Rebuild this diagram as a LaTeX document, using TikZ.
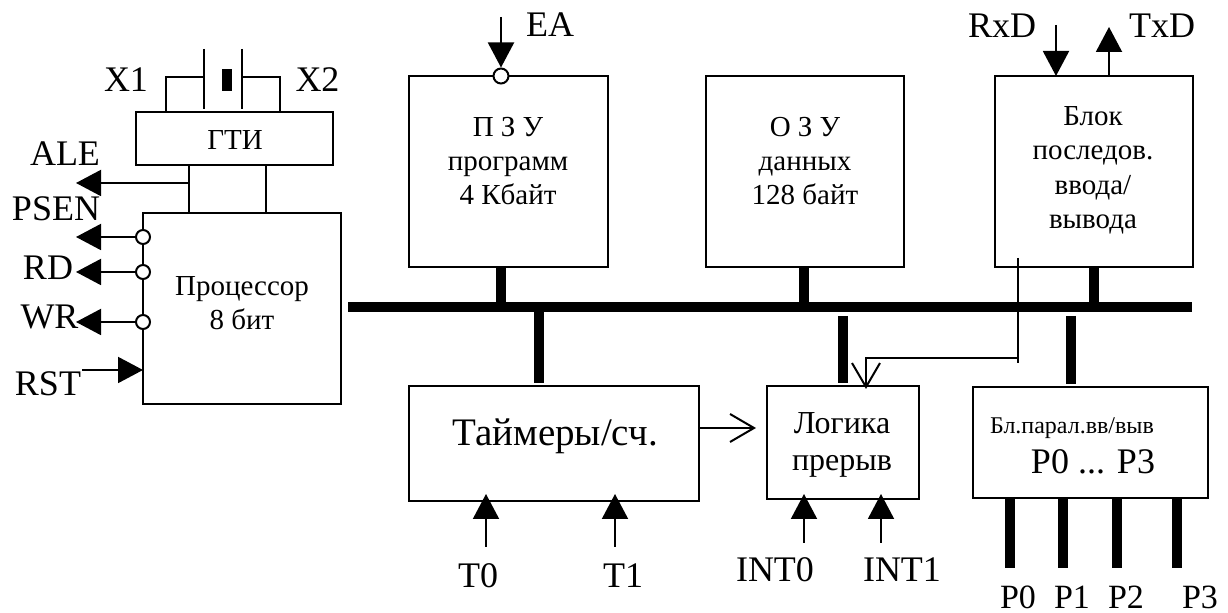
\documentclass[tikz,border=0pt]{standalone}
\usepackage{fontspec}
\setmainfont{Liberation Serif}
\usetikzlibrary{arrows.meta}
\tikzset{
  blk/.style={draw,line width=1pt,inner sep=0pt,outer sep=0pt},
  btxt/.style={align=center,inner sep=0pt,font=\fontsize{14.5}{17}\selectfont},
  lbl/.style={inner sep=0pt,font=\fontsize{18}{20}\selectfont},
  wire/.style={line width=1pt},
  sig/.style={wire,-{Triangle[length=12.5pt,width=13pt]}},
  opn/.style={wire,-{Straight Barb[length=12pt,width=14pt]}},
  bus/.style={line width=5pt},
  inv/.style={circle,draw,line width=1pt,fill=white,inner sep=0pt,minimum size=7pt},
}
\begin{document}
\begin{tikzpicture}[x=0.5pt,y=-0.5pt]
  \useasboundingbox (0,0) rectangle (1228,613);
  % blocks
  \node[blk,minimum width=98.5pt,minimum height=26.5pt] (gti) at (234.5,138.5) {};
  \node[blk,minimum width=99pt,minimum height=95.5pt] (cpu) at (242,308.5) {};
  \node[blk,minimum width=99.5pt,minimum height=95.5pt] (rom) at (508.5,171.5) {};
  \node[blk,minimum width=99pt,minimum height=95.5pt] (ram) at (805,171.5) {};
  \node[blk,minimum width=99pt,minimum height=95.5pt] (sio) at (1094,171.5) {};
  \node[blk,minimum width=145pt,minimum height=57.5pt] (tmr) at (554,443.5) {};
  \node[blk,minimum width=76pt,minimum height=56.5pt] (intl) at (843,442.5) {};
  \node[blk,minimum width=117.5pt,minimum height=55.5pt] (pio) at (1090.5,442.5) {};
  \node[btxt] (gtit) at (235,140) {ГТИ};
  \node[btxt] (cput) at (242,303) {Процессор\\8 бит};
  \node[btxt] (romt) at (508,161) {П З У\\программ\\4 Кбайт};
  \node[btxt] (ramt) at (805,161) {О З У\\данных\\128 байт};
  \node[btxt,font=\fontsize{14.5}{17.25}\selectfont] (siot) at (1093,170.5) {Блок\\последов.\\ввода/\\вывода};
  \node[btxt,font=\fontsize{19.5}{22}\selectfont] (tmrt) at (555,436) {Таймеры/сч.};
  \node[btxt,font=\fontsize{16}{18.5}\selectfont] (intlt) at (842,444.5) {Логика\\прерыв};
  \node[btxt,font=\fontsize{12}{14}\selectfont] (piot) at (1072,428) {Бл.парал.вв/выв};
  \node[lbl] (piop) at (1093,462) {P0 ... P3};
  % crystal
  \draw[wire] (gti.north -| 166,0) |- (204,77);
  \draw[wire] (gti.north -| 280,0) |- (242,77);
  \draw[wire] (204,49) -- (204,109) (242,49) -- (242,109);
  \fill (222,69) rectangle (232,91);
  \node[lbl] (x1) at (126,80) {X1};
  \node[lbl] (x2) at (317.5,80) {X2};
  \foreach \x in {189,266} \draw[wire] (gti.south -| \x,0) -- (cpu.north -| \x,0);
  % processor pins
  \coordinate (ale0) at (189,183);
  \draw[sig] (ale0) -- (76,183);
  \node[lbl] (ale) at (65,154) {ALE};
  \foreach \y/\n in {237/psen,272/rd,322/wr}{
    \node[inv] (\n) at (cpu.west |- 0,\y) {};
    \draw[sig] (\n.west) -- (76,\y);
  }
  \node[lbl] (psenl) at (56,209) {PSEN};
  \node[lbl] (rdl) at (48,268) {RD};
  \node[lbl] (wrl) at (49.5,317) {WR};
  \draw[sig] (82,370) -- (cpu.west |- 0,370);
  \node[lbl] (rstl) at (48,384) {RST};
  % top signals
  \node[inv,minimum size=7.5pt] (ea) at (rom.north -| 501,0) {};
  \draw[sig] (501,17) -- (ea.north);
  \node[lbl] (eal) at (550,25) {EA};
  \draw[sig] (1056,25) -- (sio.north -| 1056,0);
  \draw[sig] (sio.north -| 1109,0) -- (1109,27);
  \node[lbl] (rxd) at (1002,25.5) {RxD};
  \node[lbl] (txd) at (1162,25.5) {TxD};
  % bus
  \draw[bus] (348,307) -- (1192,307);
  \foreach \n/\x in {rom/501,ram/804,sio/1094} \draw[bus] (\n.south -| \x,0) -- (\x,307);
  \draw[bus,shorten >=1.5pt] (539,307) -- (tmr.north -| 539,0);
  \foreach \n/\x in {intl/843,pio/1071} \draw[bus,shorten >=1.5pt] (\x,316) -- (\n.north -| \x,0);
  % interrupts
  \draw[wire] (1018,258) -- (1018,363);
  \draw[opn] (1018,358) -| (866,389);
  \draw[opn] (tmr.east |- 0,428) -- (756,428);
  \foreach \x/\lx/\t in {486/478/T0,615/623/T1}{
    \draw[sig] (\x,547) -- (\x,494);
    \node[lbl] (\t) at (\lx,576) {\t};
  }
  \foreach \x/\lx/\t in {804/775/INT0,881/902/INT1}{
    \draw[sig] (\x,543) -- (\x,494);
    \node[lbl] (\t) at (\lx,569.5) {\t};
  }
  % ports
  \foreach \x/\lx/\t in {1010/1018/P0,1063/1072/P1,1117/1126/P2,1177/1200/P3}{
    \draw[bus] (pio.south -| \x,0) -- (\x,568);
    \node[lbl,font=\fontsize{17}{20}\selectfont] (\t) at (\lx,597) {\t};
  }
\end{tikzpicture}
\end{document}
